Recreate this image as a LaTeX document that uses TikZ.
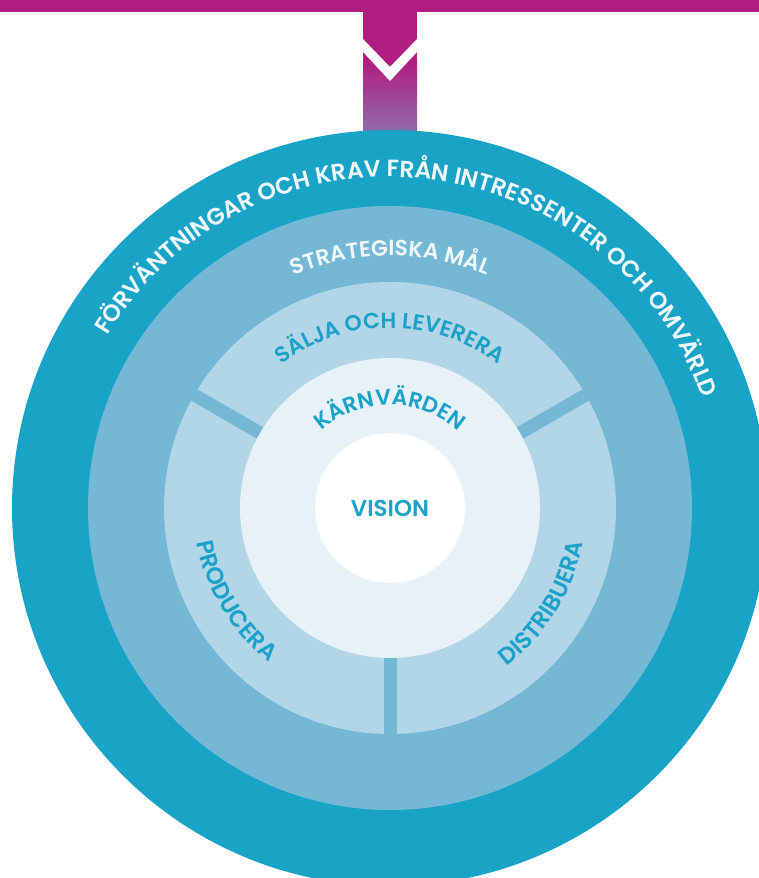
\documentclass[tikz,border=0pt]{standalone}
\usepackage{fontspec}
\newfontfamily\ringfont{Poppins}[UprightFont=* SemiBold]
\usetikzlibrary{calc,decorations.text}
\definecolor{brandmagenta}{HTML}{B01E82}
\definecolor{stemviolet}{HTML}{8E70AA}
\definecolor{ringouter}{HTML}{19A3C7}
\definecolor{ringgoals}{HTML}{74B8D6}
\definecolor{ringwork}{HTML}{B2D5E8}
\definecolor{ringcore}{HTML}{E6F1F8}
\definecolor{labelblue}{HTML}{1CA2C9}
\definecolor{labelwhite}{HTML}{EEF7FA}
\begin{document}
\begin{tikzpicture}[x=1pt,y=1pt]

    \tikzset{
      arclabel/.style={
        decorate,
        decoration={text along path, text align=center, text={#1}},
      },
      gap/.style={
        draw=ringgoals,
        line width=13pt,
      },
    }
    \useasboundingbox (0,0) rectangle (759,878);
    \clip (0,0) rectangle (759,878);
    \coordinate (c) at (390,370);

    % stem and bar
	\fill[brandmagenta] (363,866) rectangle (417,815);
	\shade[top color=brandmagenta,bottom color=stemviolet] (363,816) rectangle (417,743);
	\fill[brandmagenta] (0,866) rectangle (759,878);
	\fill[white] (363,839)--(390,811)--(417,839)--(417,826)--(390,797)--(363,826)--cycle;

    % rings
	\fill[ringouter] (c) circle[radius=378pt];
	\fill[ringgoals] (c) circle[radius=302pt];
	\fill[ringwork] (c) circle[radius=226pt];
	\draw[gap] (c) -- ++(30:232pt);
	\draw[gap] (c) -- ++(150:232pt);
	\draw[gap] (c) -- ++(270:232pt);
	\fill[ringcore] (c) circle[radius=150pt];
	\fill[white] (c) circle[radius=75pt];

    % labels
	\path[arclabel={|\ringfont\fontsize{23.5}{23.5}\selectfont\color{labelwhite}|FÖRVÄNTNINGAR OCH KRAV FRÅN INTRESSENTER OCH OMVÄRLD}] ($(c)+(174:331pt)$) arc[start angle=174, end angle=-6, radius=331pt];
	\path[arclabel={|\ringfont\fontsize{22}{22}\selectfont\color{labelwhite}|STRATEGISKA MÅL}] ($(c)+(180:252pt)$) arc[start angle=180, end angle=0, radius=252pt];
	\path[arclabel={|\ringfont\fontsize{22}{22}\selectfont\color{labelblue}|SÄLJA OCH LEVERERA}] ($(c)+(180:180pt)$) arc[start angle=180, end angle=0, radius=180pt];
	\path[arclabel={|\ringfont\fontsize{22}{22}\selectfont\color{labelblue}|KÄRNVÄRDEN}] ($(c)+(180:103pt)$) arc[start angle=180, end angle=0, radius=103pt];
	\path[arclabel={|\ringfont\fontsize{23.5}{23.5}\selectfont\color{labelblue}|PRODUCERA}] ($(c)+(151:196pt)$) arc[start angle=151, end angle=271, radius=196pt];
	\path[arclabel={|\ringfont\fontsize{23.5}{23.5}\selectfont\color{labelblue}|DISTRIBUERA}] ($(c)+(268:196pt)$) arc[start angle=268, end angle=388, radius=196pt];
	\node[text=labelblue, font=\ringfont\fontsize{23}{23}\selectfont] (vision) at (c) {VISION};

\end{tikzpicture}
\end{document}
